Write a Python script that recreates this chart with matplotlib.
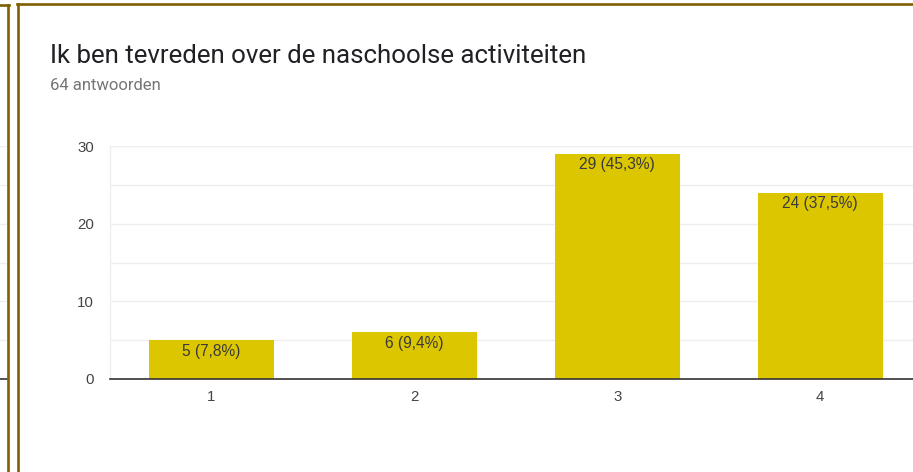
import matplotlib
matplotlib.use("Agg")
import matplotlib.pyplot as plt
from matplotlib.lines import Line2D

# data
categories = [1, 2, 3, 4]
counts = [5, 6, 29, 24]
percent_labels = ["7,8%", "9,4%", "45,3%", "37,5%"]

W, H = 913, 472
BAR_COLOR = '#DCC600'
BORDER = '#7F5F00'


def px(x, y):
    # pixel coords (from top-left) -> figure fraction
    return x / W, 1 - y / H


fig = plt.figure(figsize=(W / 100, H / 100), dpi=100)

# main chart area
ax = fig.add_axes([110 / W, 93 / H, (921.5 - 110) / W, 233 / H])
ax.bar(categories, counts, width=0.616, color=BAR_COLOR, zorder=2)
ax.set_xlim(0.5, 4.5)
ax.set_ylim(0, 30)
ax.set_yticks([0, 10, 20, 30])
ax.set_yticks([5, 15, 25], minor=True)
ax.set_xticks(categories)
ax.grid(True, axis='y', which='both', color='#eeeeee', linewidth=1.0, zorder=0)
for s in ['top', 'right']:
    ax.spines[s].set_visible(False)
ax.spines['left'].set_color('#eeeeee')
ax.spines['left'].set_linewidth(1.0)
ax.spines['bottom'].set_color('#333333')
ax.spines['bottom'].set_linewidth(1.2)
ax.spines['bottom'].set_zorder(3)
ax.tick_params(axis='both', which='both', length=0, colors='#444444', labelsize=10.8)
ax.tick_params(axis='y', pad=11.5)
ax.tick_params(axis='x', pad=8)
for lab in ax.get_xticklabels() + ax.get_yticklabels():
    lab.set_fontfamily('Liberation Sans')

for c, v, p in zip(categories, counts, percent_labels):
    ax.annotate(f"{v} ({p})", (c, v), xytext=(0, -8), textcoords='offset points',
                ha='center', va='center', fontsize=11.2, color='#3a3a3a',
                family='Liberation Sans', zorder=4)

# left neighbour chart fragment
ax2 = fig.add_axes([-100 / W, 93 / H, 107 / W, 233 / H])
ax2.set_xlim(0, 1)
ax2.set_ylim(0, 30)
ax2.set_yticks([0, 5, 10, 15, 20, 25, 30])
ax2.grid(True, axis='y', color='#eeeeee', linewidth=1.0)
for s in ['top', 'right', 'left']:
    ax2.spines[s].set_visible(False)
ax2.spines['bottom'].set_color('#333333')
ax2.spines['bottom'].set_linewidth(1.2)
ax2.set_xticks([])
ax2.tick_params(axis='y', length=0, labelleft=False)

# card borders
lines = [
    ([7.5, 7.5], [5, H]), ([0, 8.5], [5, 5]),
    ([18, 18], [3.5, H]), ([17, W], [3.5, 3.5]),
]
for xs, ys in lines:
    fx = [x / W for x in xs]
    fy = [1 - y / H for y in ys]
    fig.add_artist(Line2D(fx, fy, color=BORDER, linewidth=1.9, transform=fig.transFigure))

x0, y0 = px(50, 63)
fig.text(x0, y0, "Ik ben tevreden over de naschoolse activiteiten", fontsize=18.6,
         family='Roboto', color='#202124', va='baseline', ha='left')
x1, y1 = px(50, 90)
fig.text(x1, y1, "64 antwoorden", fontsize=12, family='Roboto', color='#757575',
         va='baseline', ha='left')

fig.savefig('out.png', dpi=100)
